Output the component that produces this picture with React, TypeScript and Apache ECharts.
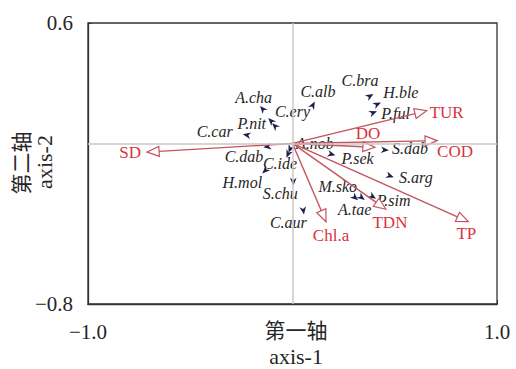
import React, { useEffect, useRef } from "react";
import * as echarts from "echarts";

// Species scores (first two ordination axes)
const speciesNames = [
  "A.cha", "P.nit", "C.ery", "C.alb", "C.car", "C.dab", "A.nob", "C.ide",
  "P.sek", "S.dab", "S.arg", "M.sko", "A.tae", "P.sim", "H.mol", "S.chu",
  "C.aur", "C.bra", "H.ble", "P.ful",
];
const speciesX = [
  -0.146, -0.105, -0.086, 0.1, -0.224, -0.123, -0.012, -0.022,
  0.191, 0.452, 0.477, 0.306, 0.338, 0.392, -0.134, 0.004,
  0.053, 0.379, 0.415, 0.395,
];
const speciesY = [
  0.172, 0.112, 0.087, 0.191, 0.042, -0.016, -0.028, -0.053,
  -0.054, -0.033, -0.162, -0.27, -0.27, -0.265, -0.136, -0.191,
  -0.335, 0.236, 0.195, 0.153,
];

// Environmental variable biplot scores
const envNames = ["SD", "TUR", "COD", "DO", "Chl.a", "TDN", "TP"];
const envX = [-0.711, 0.656, 0.707, 0.403, 0.164, 0.457, 0.86];
const envY = [-0.043, 0.163, 0.014, -0.019, -0.39, -0.328, -0.39];

// Axis extents and titles
const xMin = -1.0;
const xMax = 1.0;
const yMin = -0.8;
const yMax = 0.6;
const xAxisTitle = ["第一轴", "axis-1"];
const yAxisTitle = ["第二轴", "axis-2"];

// Label placement: [dx, dy, align]
const speciesLabelPlacement: Record<string, [number, number, string]> = {
  "A.cha": [-9, -11, "center"],
  "P.nit": [-5, 3, "right"],
  "C.ery": [0, -14, "left"],
  "C.alb": [5, -14, "center"],
  "C.car": [-14, -3, "right"],
  "C.dab": [-4, 10, "right"],
  "A.nob": [6, -6, "left"],
  "C.ide": [-8, 9, "center"],
  "P.sek": [10, 4, "left"],
  "S.dab": [7, -2, "left"],
  "S.arg": [9, 2, "left"],
  "M.sko": [2, -11, "right"],
  "A.tae": [-7, 12, "center"],
  "P.sim": [4, 4, "left"],
  "H.mol": [-3, 12, "right"],
  "S.chu": [-13, 12, "center"],
  "C.aur": [-15, 12, "center"],
  "C.bra": [-10, -16, "center"],
  "H.ble": [6, -12, "left"],
  "P.ful": [8, 1, "left"],
};
const envLabelPlacement: Record<string, [number, number, string]> = {
  SD: [-6, 0, "right"],
  TUR: [3, 2, "left"],
  COD: [0, 11, "left"],
  DO: [-7, -14, "center"],
  "Chl.a": [5, 14, "center"],
  TDN: [4, 13, "center"],
  TP: [-2, 12, "center"],
};

const SERIF = "'Liberation Serif', 'Times New Roman', 'Noto Sans CJK SC', serif";
const ARROW = "#c4545e";
const ENV_TEXT = "#d8323c";
const SPECIES = "#1d1d4e";
const INK = "#262626";

const fmt = (v: number) => (v < 0 ? "\u2212" + Math.abs(v).toFixed(1) : v.toFixed(1));

export default function App() {
  const ref = useRef<HTMLDivElement>(null);

  useEffect(() => {
    if (!ref.current) return;
    const chart = echarts.init(ref.current, undefined, { renderer: "svg" });

    chart.setOption({
      animation: false,
      backgroundColor: "#fff",
      grid: {
        left: 88,
        right: 19,
        top: 23,
        bottom: 65,
        show: true,
        borderColor: "#333",
        borderWidth: 1.3,
      },
      xAxis: {
        type: "value",
        min: xMin,
        max: xMax,
        interval: xMax - xMin,
        splitLine: { show: false },
        axisLine: { show: true, onZero: false, lineStyle: { color: "#333", width: 1.3 } },
        axisTick: { show: true, inside: true, length: 4, lineStyle: { color: "#333" } },
        axisLabel: {
          formatter: fmt,
          fontFamily: SERIF,
          fontSize: 21,
          color: INK,
          margin: 17,
        },
      },
      yAxis: {
        type: "value",
        min: yMin,
        max: yMax,
        interval: yMax - yMin,
        splitLine: { show: false },
        axisLine: { show: true, onZero: false, lineStyle: { color: "#333", width: 1.3 } },
        axisTick: { show: true, inside: true, length: 4, lineStyle: { color: "#333" } },
        axisLabel: {
          formatter: fmt,
          fontFamily: SERIF,
          fontSize: 21,
          color: INK,
          margin: 15,
        },
      },
      graphic: [
        {
          type: "text",
          x: 296,
          y: 331,
          style: {
            text: xAxisTitle[0],
            font: `21px ${SERIF}`,
            fill: INK,
            align: "center",
            verticalAlign: "middle",
          },
        },
        {
          type: "text",
          x: 296,
          y: 356,
          style: {
            text: xAxisTitle[1],
            font: `22px ${SERIF}`,
            fill: INK,
            align: "center",
            verticalAlign: "middle",
          },
        },
        {
          type: "text",
          x: 22,
          y: 163,
          rotation: Math.PI / 2,
          style: {
            text: yAxisTitle[0],
            font: `21px ${SERIF}`,
            fill: INK,
            align: "center",
            verticalAlign: "middle",
          },
        },
        {
          type: "text",
          x: 44,
          y: 162,
          rotation: Math.PI / 2,
          style: {
            text: yAxisTitle[1],
            font: `22px ${SERIF}`,
            fill: INK,
            align: "center",
            verticalAlign: "middle",
          },
        },
      ],
      series: [
        {
          // zero reference lines
          type: "line",
          data: [],
          silent: true,
          markLine: {
            silent: true,
            symbol: "none",
            label: { show: false },
            lineStyle: { color: "#c8c8c8", width: 1.5, type: "solid" },
            data: [{ xAxis: 0 }, { yAxis: 0 }],
          },
        },
        {
          // species: small arrowheads pointing away from the origin, with italic names
          type: "custom",
          data: speciesNames.map((name, i) => ({ name, value: [speciesX[i], speciesY[i]] })),
          renderItem: (params: any, api: any) => {
            const name = speciesNames[params.dataIndex];
            const [lx, ly, align] = speciesLabelPlacement[name];
            const o = api.coord([0, 0]);
            const p = api.coord([api.value(0), api.value(1)]);
            const dx = p[0] - o[0];
            const dy = p[1] - o[1];
            const len = Math.hypot(dx, dy) || 1;
            const ux = dx / len;
            const uy = dy / len;
            const nx = -uy;
            const ny = ux;
            const half = 4;
            const w = 3.3;
            const tip = [p[0] + ux * half, p[1] + uy * half];
            const bx = p[0] - ux * half;
            const by = p[1] - uy * half;
            return {
              type: "group",
              children: [
                {
                  type: "polygon",
                  shape: {
                    points: [
                      tip,
                      [bx + nx * w, by + ny * w],
                      [p[0] - ux * half * 0.4, p[1] - uy * half * 0.4],
                      [bx - nx * w, by - ny * w],
                    ],
                  },
                  style: { fill: SPECIES },
                },
                {
                  type: "text",
                  x: p[0] + lx,
                  y: p[1] + ly,
                  style: {
                    text: name,
                    font: `italic 16px ${SERIF}`,
                    fill: INK,
                    align,
                    verticalAlign: "middle",
                  },
                },
              ],
            };
          },
          z: 3,
        },
        {
          // environmental vectors with hollow heads
          type: "custom",
          data: envNames.map((name, i) => ({ name, value: [envX[i], envY[i]] })),
          renderItem: (params: any, api: any) => {
            const name = envNames[params.dataIndex];
            const [lx, ly, align] = envLabelPlacement[name];
            const o = api.coord([0, 0]);
            const t = api.coord([api.value(0), api.value(1)]);
            const dx = t[0] - o[0];
            const dy = t[1] - o[1];
            const len = Math.hypot(dx, dy) || 1;
            const ux = dx / len;
            const uy = dy / len;
            const nx = -uy;
            const ny = ux;
            const headLen = 12;
            const headW = 5;
            const bx = t[0] - ux * headLen;
            const by = t[1] - uy * headLen;
            return {
              type: "group",
              children: [
                {
                  type: "line",
                  shape: { x1: o[0], y1: o[1], x2: bx, y2: by },
                  style: { stroke: ARROW, lineWidth: 1.4 },
                },
                {
                  type: "polygon",
                  shape: {
                    points: [
                      [t[0], t[1]],
                      [bx + nx * headW, by + ny * headW],
                      [bx - nx * headW, by - ny * headW],
                    ],
                  },
                  style: { fill: "#fff", stroke: ARROW, lineWidth: 1.2 },
                },
                {
                  type: "text",
                  x: t[0] + lx,
                  y: t[1] + ly,
                  style: {
                    text: name,
                    font: `17px ${SERIF}`,
                    fill: ENV_TEXT,
                    align,
                    verticalAlign: "middle",
                  },
                },
              ],
            };
          },
          z: 4,
        },
      ],
    });

    return () => chart.dispose();
  }, []);

  return (
    <div
      ref={ref}
      style={{ position: "fixed", left: 0, top: 0, width: 516, height: 369 }}
    />
  );
}
